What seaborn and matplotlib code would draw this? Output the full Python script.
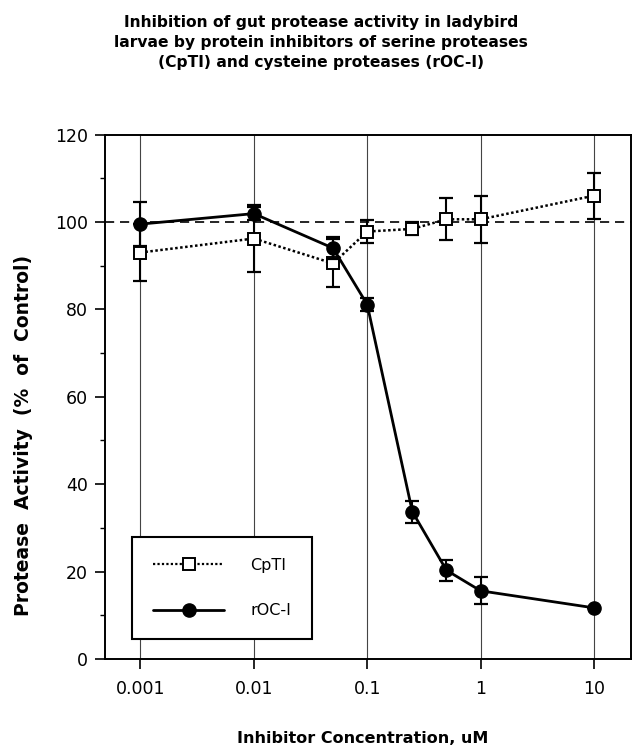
import matplotlib
matplotlib.use("Agg")
import matplotlib.pyplot as plt
import seaborn as sns
import pandas as pd
import numpy as np
from matplotlib.lines import Line2D

# ---- data ----
conc = [0.001, 0.01, 0.05, 0.1, 0.25, 0.5, 1, 10]
cpti_mean = [93.0, 96.2, 90.5, 97.8, 98.4, 100.6, 100.6, 106.0]
cpti_err = [6.5, 7.7, 5.5, 2.7, 1.5, 4.8, 5.4, 5.3]
roc_mean = [99.5, 101.9, 94.0, 81.1, 33.7, 20.3, 15.6, 11.7]
roc_err = [5.0, 1.5, 2.5, 1.5, 2.5, 2.4, 3.1, 0.0]
series_names = ["CpTI", "rOC-I"]
x_ticks = [0.001, 0.01, 0.1, 1, 10]
x_tick_labels = ["0.001", "0.01", "0.1", "1", "10"]
y_ticks = [0, 20, 40, 60, 80, 100, 120]
control_level = 100

title = ("Inhibition of gut protease activity in ladybird\n"
         "larvae by protein inhibitors of serine proteases\n"
         "(CpTI) and cysteine proteases (rOC-I)")
xlabel = "Inhibitor Concentration, uM"
ylabel = "Protease  Activity  (%  of  Control)"

df = pd.DataFrame({
    "conc": conc * 2,
    "value": cpti_mean + roc_mean,
    "err": cpti_err + roc_err,
    "series": [series_names[0]] * len(conc) + [series_names[1]] * len(conc),
})

sns.set_style("ticks")
plt.rcParams["font.family"] = ["DejaVu Sans"]
plt.rcParams["text.color"] = "black"
plt.rcParams["axes.labelcolor"] = "black"
plt.rcParams["xtick.color"] = "black"
plt.rcParams["ytick.color"] = "black"

fig = plt.figure(figsize=(6.32, 7.47), dpi=100)
ax = fig.add_axes([105 / 632, 1 - 659 / 747, 526 / 632, (659 - 134.5) / 747])

styles = {
    "CpTI": dict(ls=(0, (1, 1)), lw=1.8, marker="s", mfc="white", mec="black", ms=8.6, mew=1.4, z=4),
    "rOC-I": dict(ls="-", lw=2.0, marker="o", mfc="black", mec="black", ms=9.5, mew=1.0, z=5),
}

for name in series_names:
    sub = df[df["series"] == name]
    st = styles[name]
    ax.errorbar(sub["conc"], sub["value"], yerr=sub["err"], fmt="none",
                ecolor="black", elinewidth=1.5, capsize=4.8, capthick=1.6, zorder=st["z"] - 1)
    sns.lineplot(data=sub, x="conc", y="value", ax=ax, color="black",
                 linestyle=st["ls"], linewidth=st["lw"], marker=st["marker"],
                 markerfacecolor=st["mfc"], markeredgecolor=st["mec"],
                 markersize=st["ms"], markeredgewidth=st["mew"], zorder=st["z"],
                 legend=False)

ax.set_xscale("log")
ax.set_xlim(0.000487, 21.2)
ax.set_ylim(0, 120)
ax.axhline(control_level, color="black", lw=1.2, ls=(0, (5.5, 3.5)), zorder=2)

ax.set_xticks(x_ticks)
ax.set_xticklabels(x_tick_labels)
ax.xaxis.set_minor_locator(matplotlib.ticker.NullLocator())
ax.set_yticks(y_ticks)
ax.yaxis.set_minor_locator(matplotlib.ticker.MultipleLocator(10))
for xv in x_ticks:
    ax.axvline(xv, color="#444444", lw=0.8, zorder=1)

ax.tick_params(axis="x", which="major", direction="out", length=7, width=1.2,
               pad=8, labelsize=12.5)
ax.tick_params(axis="y", which="major", direction="out", length=7.2, width=1.2,
               pad=5, labelsize=12.5)
ax.tick_params(axis="y", which="minor", direction="out", length=3.6, width=1.0)
for s in ax.spines.values():
    s.set_visible(True)
    s.set_linewidth(1.4)
    s.set_color("black")

ax.set_xlabel(xlabel, fontsize=11.5, fontweight="bold")
ax.set_ylabel(ylabel, fontsize=13.5, fontweight="bold")
ax.xaxis.set_label_coords(0.49, -0.137)
ax.yaxis.set_label_coords(-0.137, 0.427)

handles = [
    Line2D([], [], color="black", ls=styles["CpTI"]["ls"], lw=1.6, marker="s",
           mfc="white", mec="black", ms=8.6, mew=1.4),
    Line2D([], [], color="black", ls="-", lw=2.0, marker="o",
           mfc="black", mec="black", ms=9.5),
]
leg = ax.legend(handles, series_names, loc="lower left", bbox_to_anchor=(0.051, 0.038),
                borderaxespad=0, frameon=True, fancybox=False, fontsize=11.5,
                handlelength=4.5, handletextpad=1.6, labelspacing=1.9,
                borderpad=1.3, framealpha=1)
leg.get_frame().set_edgecolor("black")
leg.get_frame().set_linewidth(1.5)
leg.set_zorder(10)

fig.text(0.508, 1 - 15 / 747, title, ha="center", va="top", fontsize=11.2,
         fontweight="bold", linespacing=1.4)

fig.savefig("out.png", dpi=100, facecolor="white")
